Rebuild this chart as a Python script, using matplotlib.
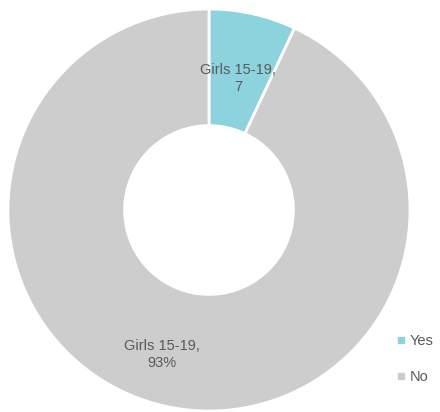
import matplotlib
matplotlib.use('Agg')
import matplotlib.pyplot as plt
from matplotlib.lines import Line2D

categories = ['Yes', 'No']
values = [7, 93]
labels = ['Girls 15-19,\n7', 'Girls 15-19,\n93%']
colors = ['#8DD3DD', '#CDCDCD']
text_color = '#595959'

plt.rcParams['font.family'] = ['Liberation Sans', 'DejaVu Sans']

fig = plt.figure(figsize=(4.4, 4.12), dpi=100)
ax = fig.add_axes([8 / 440, 1 / 412, 402 / 440, 402 / 412])

wedges, _ = ax.pie(
    values,
    colors=colors,
    startangle=90,
    counterclock=False,
    radius=1.0,
    wedgeprops=dict(width=0.58, edgecolor='white', linewidth=2),
)
ax.set_xlim(-1, 1)
ax.set_ylim(-1, 1)
ax.set_aspect('equal')
ax.axis('off')

# label positions (data units, relative to centre)
label_pos = [(0.145, 0.655), (-0.235, -0.72)]
for (x, y), txt in zip(label_pos, labels):
    ax.text(x, y, txt, ha='center', va='center', fontsize=10.5,
            color=text_color, linespacing=1.25)

handles = [Line2D([0], [0], marker='s', linestyle='', markersize=4,
                  markerfacecolor=c, markeredgecolor=c) for c in colors]
fig.legend(handles, categories, loc='center left',
           bbox_to_anchor=(383 / 440, 1 - 359 / 412), frameon=False,
           fontsize=10.5, labelcolor=text_color, handlelength=0.6,
           handletextpad=0.35, labelspacing=1.5)

fig.savefig('out.png', dpi=100)
